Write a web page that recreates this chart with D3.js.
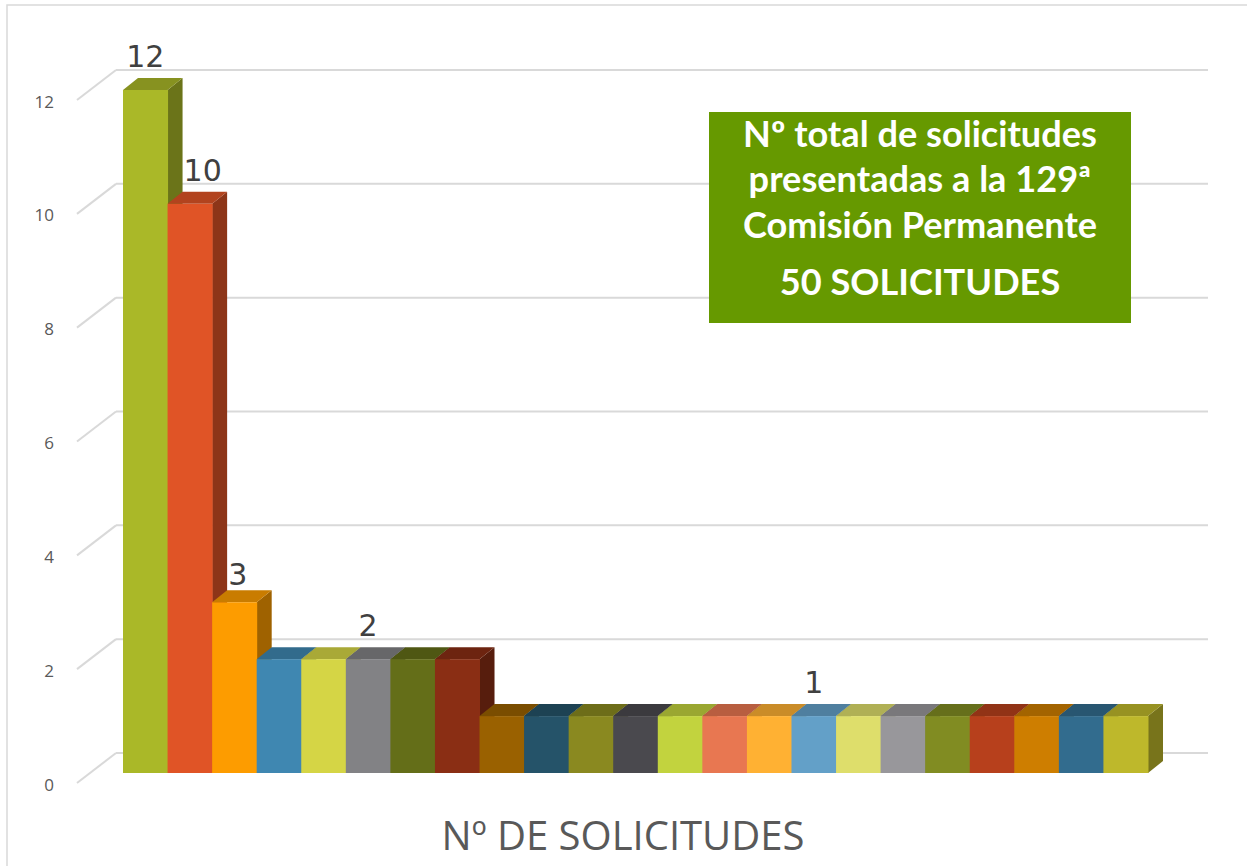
<!DOCTYPE html>
<html>
<head>
<meta charset="utf-8">
<script src="https://cdn.jsdelivr.net/npm/d3@7"></script>
<style>
  html, body { margin: 0; padding: 0; background: #ffffff; }
  svg { display: block; }
</style>
</head>
<body>
<script>
// ---------- DATA ----------
const categories = d3.range(1, 24).map(i => "C" + i);
const values = [12, 10, 3, 2, 2, 2, 2, 2, 1, 1, 1, 1, 1, 1, 1, 1, 1, 1, 1, 1, 1, 1, 1];
const barColors = [
  "#AAB828", "#E05426", "#FD9C00", "#3F87B1", "#D5D545", "#828285", "#646E18", "#8A2E14",
  "#9A6100", "#255369", "#8A8920", "#4A494E", "#C2D33E", "#E87751", "#FFB133", "#63A0C8",
  "#DEDE6B", "#98979B", "#818C22", "#B7401C", "#CE7E00", "#326C8E", "#BEB82B"
];
const labelledBars = [0, 1, 2, 5, 15];
const yTicks = [0, 2, 4, 6, 8, 10, 12];
const boxLines = ["Nº total de solicitudes", "presentadas a la 129ª", "Comisión Permanente", "50 SOLICITUDES"];
const axisTitle = "Nº DE SOLICITUDES";

// ---------- LAYOUT ----------
const W = 1247, H = 866;
const svg = d3.select("body").append("svg").attr("width", W).attr("height", H);

const x = d3.scaleBand().domain(categories).range([123, 1148]).padding(0);
const y = d3.scaleLinear().domain([0, 12]).range([773, 90]);

const depthX = 15, depthY = -12;      // bar depth
const wallX = 39, wallY = -30;        // floor depth to back wall
const wallShift = -20;                // back wall vertical offset relative to bar fronts
const gridRight = 1208;

// chart border
svg.append("path")
  .attr("d", `M7,${H} L7,5 L${W},5`)
  .attr("fill", "none").attr("stroke", "#d9d9d9").attr("stroke-width", 1.5);

// gridlines (back wall) + diagonal tick lines on side wall
const grid = svg.append("g");
yTicks.forEach(v => {
  const yb = y(v) + wallShift;
  grid.append("line")
    .attr("x1", 116).attr("x2", gridRight)
    .attr("y1", yb).attr("y2", yb)
    .attr("stroke", "#d9d9d9").attr("stroke-width", 2);
  grid.append("line")
    .attr("x1", 116 - wallX).attr("y1", yb - wallY)
    .attr("x2", 116).attr("y2", yb)
    .attr("stroke", "#d9d9d9").attr("stroke-width", 2);
  grid.append("text")
    .attr("x", 54).attr("y", yb - wallY + 3)
    .attr("text-anchor", "end")
    .attr("dominant-baseline", "middle")
    .attr("font-family", "'Open Sans', sans-serif")
    .attr("font-size", 17)
    .attr("fill", "#595959")
    .text(v);
});

// bars (3D columns)
const bars = svg.append("g");
values.forEach((v, i) => {
  const c = categories[i];
  const x0 = x(c), x1 = x(c) + x.bandwidth();
  const yt = y(v), yb = y(0);
  const base = d3.color(barColors[i]);
  const topCol = base.darker(0.65).formatHex();
  const sideCol = base.darker(1.3).formatHex();
  const g = bars.append("g");
  g.append("path")
    .attr("d", `M${x1},${yb} L${x1 + depthX},${yb + depthY} L${x1 + depthX},${yt + depthY} L${x1},${yt} Z`)
    .attr("fill", sideCol);
  g.append("path")
    .attr("d", `M${x0},${yt} L${x0 + depthX},${yt + depthY} L${x1 + depthX},${yt + depthY} L${x1},${yt} Z`)
    .attr("fill", topCol);
  g.append("rect")
    .attr("x", x0).attr("y", yt)
    .attr("width", x.bandwidth() + 0.5).attr("height", yb - yt)
    .attr("fill", barColors[i]);
});

// data labels
const labels = svg.append("g");
labelledBars.forEach(i => {
  const c = categories[i];
  const t = labels.append("text")
    .attr("font-family", "'DejaVu Sans', sans-serif")
    .attr("font-size", 30)
    .attr("fill", "#404040")
    .attr("text-anchor", "middle")
    .text(values[i]);
  const w = t.node().getComputedTextLength();
  let cx = x(c) + x.bandwidth() / 2;
  if (i > 0 && values[i - 1] > values[i]) {
    const prevRight = x(categories[i - 1]) + x.bandwidth() + depthX;
    cx = Math.max(cx, prevRight + w / 2 + 1);
  }
  const ty = y(values[i]) + depthY - (values[i] >= 4 || values[i] <= 2 ? 11 : 5);
  t.attr("x", cx).attr("y", ty);
});

// info box
const boxX = 709, boxY = 112, boxW = 422, boxH = 211;
svg.append("rect")
  .attr("x", boxX).attr("y", boxY).attr("width", boxW).attr("height", boxH)
  .attr("fill", "#669900");
const boxBaselines = [147, 192, 238, 295];
const boxTexts = boxLines.map((s, k) => svg.append("text")
  .attr("x", boxX + boxW / 2).attr("y", boxBaselines[k])
  .attr("text-anchor", "middle")
  .attr("font-family", "Lato, 'Open Sans', sans-serif")
  .attr("font-weight", "bold")
  .attr("font-size", 30)
  .attr("fill", "#ffffff")
  .text(s));
{
  const w0 = boxTexts[0].node().getComputedTextLength();
  const fs = 30 * 354 / w0;
  boxTexts.forEach(t => t.attr("font-size", fs));
}

// axis title
const at = svg.append("text")
  .attr("x", 623).attr("y", 850)
  .attr("text-anchor", "middle")
  .attr("font-family", "'Open Sans', sans-serif")
  .attr("font-size", 36)
  .attr("fill", "#595959")
  .text(axisTitle);
{
  const w0 = at.node().getComputedTextLength();
  at.attr("font-size", 36 * 363 / w0);
}
</script>
</body>
</html>
